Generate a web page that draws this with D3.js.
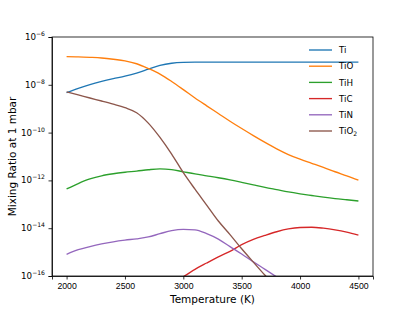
<!DOCTYPE html>
<html>
<head>
<meta charset="utf-8">
<script src="https://cdn.jsdelivr.net/npm/d3@7"></script>
<style>
  body { margin: 0; background: #fff; }
  svg { font-family: "DejaVu Sans", sans-serif; }
</style>
</head>
<body>
<div id="chart"></div>
<script>
// temperatures (K)
const temps = [2000, 2100, 2200, 2300, 2400, 2500, 2600, 2700, 2800, 2900, 3000, 3100, 3200,
  3300, 3400, 3500, 3600, 3700, 3800, 3900, 4000, 4100, 4200, 4300, 4400, 4500];

// mixing ratios at 1 mbar
const ti = [4.7e-9, 7.1e-9, 1.02e-8, 1.38e-8, 1.8e-8, 2.3e-8, 3.1e-8, 4.5e-8, 6.5e-8, 8.0e-8,
  8.7e-8, 8.9e-8, 8.9e-8, 8.9e-8, 8.9e-8, 8.9e-8, 8.9e-8, 8.9e-8, 8.9e-8, 8.9e-8, 8.9e-8, 8.9e-8,
  8.9e-8, 8.9e-8, 8.9e-8, 8.9e-8];
const tio = [1.51e-7, 1.48e-7, 1.41e-7, 1.32e-7, 1.17e-7, 1.0e-7, 7.6e-8, 4.8e-8, 2.8e-8, 1.38e-8,
  6.3e-9, 2.8e-9, 1.32e-9, 6.3e-10, 3.0e-10, 1.48e-10, 7.5e-11, 3.9e-11, 2.1e-11, 1.21e-11,
  7.7e-12, 5.2e-12, 3.5e-12, 2.3e-12, 1.55e-12, 1.02e-12];
const tih = [4.4e-13, 7.4e-13, 1.15e-12, 1.56e-12, 1.9e-12, 2.19e-12, 2.45e-12, 2.8e-12, 3.05e-12,
  2.82e-12, 2.29e-12, 1.86e-12, 1.55e-12, 1.29e-12, 1.05e-12, 8.3e-13, 6.5e-13, 5.1e-13,
  4.1e-13, 3.3e-13, 2.75e-13, 2.34e-13, 2.0e-13, 1.74e-13, 1.55e-13, 1.38e-13];
const tic = [null, null, null, null, null, null, null, null, null, null, 9.3e-17, 1.9e-16,
  3.5e-16, 6.3e-16, 1.07e-15, 2.04e-15, 3.4e-15, 5.0e-15, 7.1e-15, 9.3e-15, 1.07e-14,
  1.1e-14, 1.0e-14, 8.5e-15, 6.8e-15, 5.1e-15];
const tin = [8.1e-16, 1.26e-15, 1.7e-15, 2.19e-15, 2.69e-15, 3.16e-15, 3.6e-15, 4.3e-15, 5.9e-15,
  7.9e-15, 8.9e-15, 8.5e-15, 5.9e-15, 3.5e-15, 1.7e-15, 8.3e-16, 3.9e-16, 1.9e-16, 9.1e-17,
  null, null, null, null, null, null, null];
const tio2 = [5.1e-9, 3.8e-9, 2.8e-9, 2.1e-9, 1.55e-9, 1.1e-9, 6.8e-10, 2.5e-10, 6.3e-11,
  1.26e-11, 2.1e-12, 4.3e-13, 9.3e-14, 2.0e-14, 5.4e-15, 1.38e-15, 3.8e-16, 1.07e-16, 3.2e-17,
  null, null, null, null, null, null, null];

const seriesNames = ['Ti', 'TiO', 'TiH', 'TiC', 'TiN', 'TiO2'];
const seriesValues = [ti, tio, tih, tic, tin, tio2];
const colors = ['#1f77b4', '#ff7f0e', '#2ca02c', '#d62728', '#9467bd', '#8c564b'];
const yTicks = [1e-16, 1e-14, 1e-12, 1e-10, 1e-8, 1e-6];
const xTicks = [2000, 2500, 3000, 3500, 4000, 4500];

const width = 415, height = 311;
const margin = { top: 37, right: 42, bottom: 35, left: 52 };
const plotW = width - margin.left - margin.right;
const plotH = height - margin.top - margin.bottom;

const svg = d3.select('#chart').append('svg')
  .attr('width', width)
  .attr('height', height);

const g = svg.append('g')
  .attr('transform', `translate(${margin.left},${margin.top})`);

const x = d3.scaleLinear().domain([1875, 4625]).range([0, plotW]);
const y = d3.scaleLog().domain([1e-16, 1e-6]).range([plotH, 0]);

svg.append('defs').append('clipPath').attr('id', 'plot-clip')
  .append('rect').attr('width', plotW).attr('height', plotH);

// lines
const line = d3.line()
  .defined(d => d.v != null)
  .x(d => x(d.t))
  .y(d => y(d.v))
  .curve(d3.curveMonotoneX);

const plot = g.append('g').attr('clip-path', 'url(#plot-clip)');
seriesValues.forEach((vals, i) => {
  const pts = temps.map((t, j) => ({ t: t, v: vals[j] }));
  plot.append('path')
    .datum(pts)
    .attr('fill', 'none')
    .attr('stroke', colors[i])
    .attr('stroke-width', 1.35)
    .attr('d', line);
});

// x axis
const xAxis = g.append('g')
  .attr('transform', `translate(0,${plotH})`)
  .call(d3.axisBottom(x).tickValues(xTicks).tickSize(3.5).tickPadding(3.5).tickFormat(d3.format('d')));
xAxis.selectAll('text').style('font-size', '8.7px').attr('fill', '#000');

// y axis, labels drawn by hand for the superscripts
const yAxis = g.append('g')
  .call(d3.axisLeft(y).tickValues(yTicks).tickSize(3.5).tickFormat(''));
yTicks.forEach(t => {
  const txt = g.append('text')
    .attr('x', -7)
    .attr('y', y(t) + 3)
    .attr('text-anchor', 'end')
    .style('font-size', '8.7px');
  txt.append('tspan').text('10');
  txt.append('tspan')
    .attr('dy', -4)
    .style('font-size', '6.1px')
    .text('\u2212' + Math.round(-Math.log10(t)));
});

g.selectAll('.domain, .tick line').attr('stroke', '#000').attr('stroke-width', 0.8);

// frame
g.append('rect')
  .attr('width', plotW).attr('height', plotH)
  .attr('fill', 'none').attr('stroke', '#000').attr('stroke-width', 0.8);

// axis labels
svg.append('text')
  .attr('x', margin.left + plotW / 2)
  .attr('y', 303)
  .attr('text-anchor', 'middle')
  .style('font-size', '10.5px')
  .text('Temperature (K)');

svg.append('text')
  .attr('transform', `translate(16,${margin.top + plotH / 2}) rotate(-90)`)
  .attr('text-anchor', 'middle')
  .style('font-size', '10.5px')
  .text('Mixing Ratio at 1 mbar');

// legend (no frame)
const legend = svg.append('g').attr('transform', 'translate(309,50)');
seriesNames.forEach((name, i) => {
  const row = legend.append('g').attr('transform', `translate(0,${i * 16.2})`);
  row.append('line')
    .attr('x1', 0).attr('x2', 23)
    .attr('stroke', colors[i]).attr('stroke-width', 1.35);
  const txt = row.append('text')
    .attr('x', 30).attr('y', 3.2)
    .style('font-size', '8.7px');
  if (name === 'TiO2') {
    txt.append('tspan').text('TiO');
    txt.append('tspan').attr('dy', 2).style('font-size', '6.1px').text('2');
  } else {
    txt.text(name);
  }
});
</script>
</body>
</html>
